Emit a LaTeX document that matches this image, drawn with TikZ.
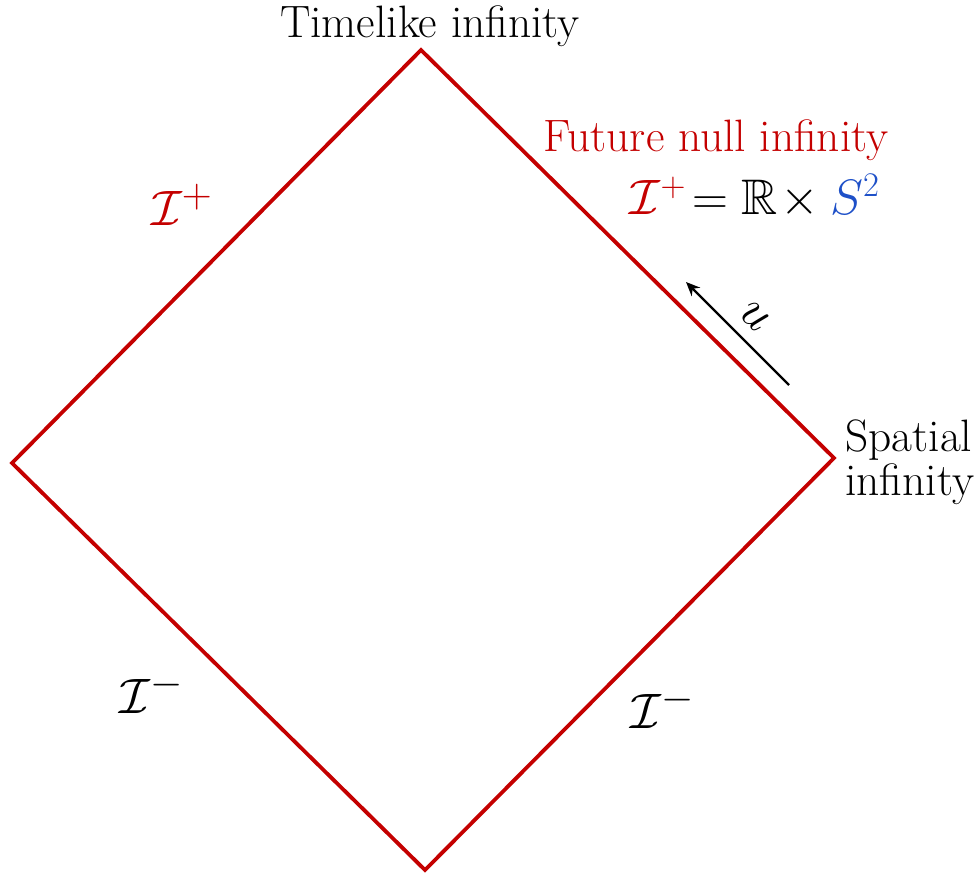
\documentclass[tikz,border=0pt]{standalone}
\usepackage{amssymb}
\usepackage{amsmath}
\usetikzlibrary{arrows.meta}
\definecolor{pred}{RGB}{196,0,0}
\definecolor{pblue}{RGB}{30,80,200}
\begin{document}
\begin{tikzpicture}[x=0.5pt,y=-0.5pt,
  edge/.style={draw=pred,line width=1.9pt,line join=miter},
  txt/.style={font=\fontsize{22.7}{22}\selectfont,inner sep=0pt},
  mlab/.style={font=\fontsize{31}{31}\selectfont,inner sep=0pt}]
\useasboundingbox (0,0) rectangle (978,874);
\coordinate (T) at (421,50);
\coordinate (R) at (834,458);
\coordinate (B) at (425,870);
\coordinate (L) at (12,463);
\draw[edge] (T) -- (R) -- (B) -- (L) -- cycle;
\coordinate (a0) at (789,385);
\coordinate (a1) at (686,282);
\draw[-{Stealth[length=7pt,width=6pt]},line width=1.2pt] (a0) -- node[sloped,above=6pt,font=\fontsize{28}{28}\selectfont,inner sep=0pt] (ulab) {$u$} (a1);
\node[txt] (time) at (430,26) {Timelike infinity};
\node[txt,text=pred] (fni) at (716,140) {Future null infinity};
\node[font=\fontsize{25}{25}\selectfont,inner sep=0pt] (eq) at (755,196) {$\color{pred}\mathcal{I}^+\!\color{black}=\mathbb{R}\!\times\color{pblue} S^2$};
\node[mlab,text=pred] (ipl) at (182,205) {$\mathcal{I}^+$};
\node[txt,align=left,anchor=west] (spat) at (845,462) {Spatial\\infinity};
\node[mlab] (iml) at (152,692) {$\mathcal{I}^-$};
\node[mlab] (imr) at (663,707) {$\mathcal{I}^-$};
\end{tikzpicture}
\end{document}
